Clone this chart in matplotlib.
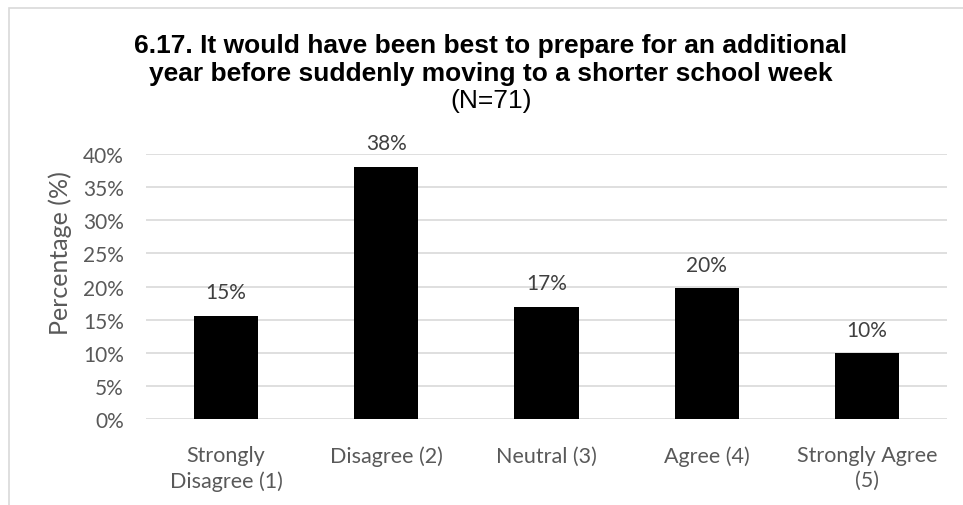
import matplotlib.pyplot as plt
from matplotlib.patches import Rectangle
from matplotlib.ticker import PercentFormatter

# data
categories = ["Strongly\nDisagree (1)", "Disagree (2)", "Neutral (3)",
              "Agree (4)", "Strongly Agree\n(5)"]
percents = [15.5, 38.0, 16.9, 19.7, 9.9]
labels = ["15%", "38%", "17%", "20%", "10%"]
yticks = [0, 5, 10, 15, 20, 25, 30, 35, 40]

W, H = 963, 506
fig = plt.figure(figsize=(W / 100, H / 100), dpi=100)

# light chart-area border (only left/top visible)
fig.patches.append(Rectangle((9 / W, -0.1), 1.2, (H - 9) / H + 0.1,
                             transform=fig.transFigure, fill=False,
                             edgecolor="#d9d9d9", linewidth=1.2))

ax = fig.add_axes([146 / W, (H - 420) / H, 801 / W, 265 / H])
x = range(len(categories))
ax.bar(x, percents, width=0.4, color="black", zorder=3)
for i, v in enumerate(percents):
    ax.text(i, v + 3.6, labels[i], ha="center", va="center",
            fontsize=15, color="#404040", family="Lato")

ax.set_xlim(-0.5, len(categories) - 0.5)
ax.set_ylim(0, 40)
ax.set_yticks(yticks)
ax.yaxis.set_major_formatter(PercentFormatter(decimals=0))
ax.grid(axis="y", color="#d9d9d9", linewidth=1.2, zorder=0)
for s in ax.spines.values():
    s.set_visible(False)
ax.tick_params(axis="y", length=0, labelcolor="#595959", labelsize=15, pad=16)
ax.tick_params(axis="x", length=0, labelcolor="#595959", labelsize=15.5, pad=19)
ax.set_xticks(list(x))
ax.set_xticklabels(categories, family="Lato", linespacing=1.3)
for t in ax.get_yticklabels():
    t.set_family("Lato")
ax.set_ylabel("Percentage (%)", fontsize=18, color="#595959", family="Lato")
ax.yaxis.set_label_coords(60 / W, 0.5, transform=fig.transFigure)
ax.yaxis.label.set_va("center")

fig.text(491 / W, 1 - 46 / H, "6.17. It would have been best to prepare for an additional",
         ha="center", va="center", fontsize=19, fontweight="bold",
         family="Liberation Sans")
fig.text(491 / W, 1 - 74 / H, "year before suddenly moving to a shorter school week",
         ha="center", va="center", fontsize=19, fontweight="bold",
         family="Liberation Sans")
fig.text(491 / W, 1 - 101 / H, "(N=71)", ha="center", va="center",
         fontsize=19, family="Liberation Sans")

fig.savefig("out.png", dpi=100)
